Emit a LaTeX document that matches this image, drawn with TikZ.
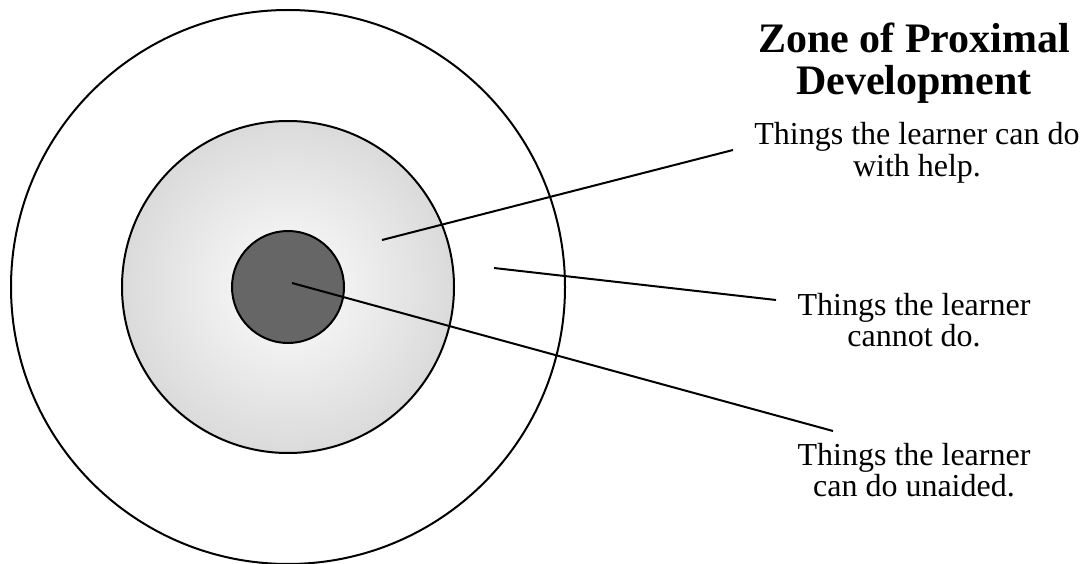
\documentclass[tikz,border=0pt]{standalone}
\usepackage{fontspec}
\setmainfont{Liberation Serif}
\pgfdeclareradialshading{zpdshade}{\pgfpoint{0bp}{0bp}}{color(0bp)=(white); color(8bp)=(black!5); color(50bp)=(black!28)}
\begin{document}
\begin{tikzpicture}[x=1pt,y=-1pt,
  ring/.style={draw=black,line width=2pt},
  leader/.style={draw=black,line width=2pt},
  label/.style={align=center,inner sep=0pt,anchor=base,font=\fontsize{32}{31.5}\selectfont},
  titletext/.style={align=center,inner sep=0pt,anchor=base,font=\fontsize{42}{41.5}\selectfont\bfseries}]
\useasboundingbox (0,0) rectangle (1088,564);
\node[ring,circle,minimum size=554pt,inner sep=0pt,fill=white] (outer) at (288,287) {};
\node[ring,circle,minimum size=332pt,inner sep=0pt,shading=zpdshade] (middle) at (288,287) {};
\node[ring,circle,minimum size=112pt,inner sep=0pt,fill=black!60] (inner) at (288,287) {};
\coordinate (p1) at (382,240);
\coordinate (q1) at (733,150);
\coordinate (p2) at (494,268);
\coordinate (q2) at (776,300);
\coordinate (p3) at (292,283);
\coordinate (q3) at (833,431);
\draw[leader] (p1) -- (q1);
\draw[leader] (p2) -- (q2);
\draw[leader] (p3) -- (q3);
\node[titletext] (title) at (914,94.2) {Zone of Proximal\\Development};
\node[label] (help) at (917,176.5) {Things the learner can do\\with help.};
\node[label] (cannot) at (914,346.5) {Things the learner\\cannot do.};
\node[label] (unaided) at (914,496.5) {Things the learner\\can do unaided.};
\end{tikzpicture}
\end{document}
